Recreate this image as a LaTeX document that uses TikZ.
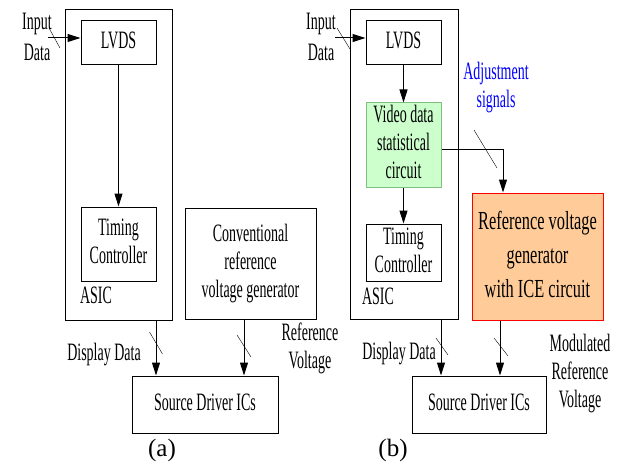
\documentclass[tikz,border=0pt]{standalone}
\usepackage{fontspec}
\setmainfont{Liberation Serif}
\usepackage{graphicx}
\usetikzlibrary{arrows.meta}
\definecolor{videogreen}{rgb}{0.8,1,0.8}
\definecolor{videoedge}{rgb}{0.5,0.75,0.5}
\definecolor{iceorange}{rgb}{1,0.8,0.6}
\newcommand{\sq}[2][0.56]{\scalebox{#1}[1]{\begin{tabular}{@{}c@{}}#2\end{tabular}}}

\begin{document}
\begin{tikzpicture}[x=1pt,y=-1pt,
    box/.style={draw, line width=1pt, inner sep=0pt, font=\fontsize{25}{28}\selectfont},
    txt/.style={inner sep=0pt, font=\fontsize{25}{28}\selectfont},
    flow/.style={-{Triangle[length=13pt,width=8pt]}, line width=1pt}]
        \useasboundingbox (0,0) rectangle (623,465);

        % (a) conventional driving
        \node[box, minimum width=107pt, minimum height=310pt] (asicA) at (118.5,165) {};
        \node[box, minimum width=75pt, minimum height=44pt] (lvdsA) at (118.5,43) {\sq{LVDS}};
        \node[box, minimum width=75pt, minimum height=74pt] (tconA) at (118.5,244) {\sq{Timing\\Controller}};
        \node[txt] (asicAtxt) at (96,298) {\sq{ASIC}};
        \node[box, minimum width=131pt, minimum height=111pt] (convA) at (250.5,263.5) {\sq{Conventional\\reference\\voltage generator}};
        \node[box, minimum width=146pt, minimum height=57pt] (sdA) at (205,404.5) {\sq{Source Driver ICs}};
        \node[txt] (inAtxt) at (37,39) {\sq{Input\\[3pt]Data}};
        \node[txt] (dispAtxt) at (104,355) {\sq{Display Data}};
        \node[txt] (refAtxt) at (310,349) {\sq{Reference\\Voltage}};
        \node[txt] (capA) at (162,450) {(a)};

        \coordinate (inA) at (48,38);
        \coordinate (dispA) at (156,343);
        \coordinate (refA) at (244,346);
        \draw[flow] (inA) -- (inA -| lvdsA.west);
        \draw (inA) ++(1,-10) -- ++(11,20);
        \draw[flow] (lvdsA) -- (tconA);
        \draw[flow] (asicA.south -| dispA) -- (sdA.north -| dispA);
        \draw (dispA) ++(-6.5,-11) -- ++(13,22);
        \draw[flow] (convA.south -| refA) -- (sdA.north -| refA);
        \draw (refA) ++(-7,-11) -- ++(14,22);

        % (b) with ICE circuit
        \node[box, minimum width=108pt, minimum height=309pt] (asicB) at (404,164.5) {};
        \node[box, minimum width=75pt, minimum height=44pt] (lvdsB) at (403.5,43) {\sq{LVDS}};
        \node[box, draw=videoedge, fill=videogreen, minimum width=75pt, minimum height=84pt] (vidB) at (403.5,145) {\sq{Video data\\statistical\\circuit}};
        \node[box, minimum width=75pt, minimum height=57pt] (tconB) at (403.5,252.5) {\sq{Timing\\Controller}};
        \node[txt] (asicBtxt) at (378,299) {\sq{ASIC}};
        \node[box, draw=red, fill=iceorange, minimum width=131pt, minimum height=127pt, font=\fontsize{26}{34}\selectfont] (refB) at (537.5,256.5) {\sq[0.63]{Reference voltage\\generator\\with ICE circuit}};
        \node[box, minimum width=134pt, minimum height=57pt] (sdB) at (479,404.5) {\sq{Source Driver ICs}};
        \node[txt] (inBtxt) at (321,39) {\sq{Input\\[3pt]Data}};
        \node[txt, text=blue] (adjtxt) at (496,88) {\sq{Adjustment\\signals}};
        \node[txt] (dispBtxt) at (399,354) {\sq{Display Data}};
        \node[txt] (modtxt) at (580,374) {\sq{Modulated\\Reference\\Voltage}};
        \node[txt] (capB) at (393,450) {(b)};

        \coordinate (inB) at (335,38);
        \coordinate (adjB) at (503,150);
        \coordinate (dispB) at (441,346);
        \coordinate (modB) at (500,347);
        \draw[flow] (inB) -- (inB -| lvdsB.west);
        \draw (inB) ++(2,-10) -- ++(13,21);
        \draw[flow] (lvdsB) -- (vidB);
        \draw[flow] (vidB) -- (tconB);
        \draw[flow] (vidB.east |- adjB) -| (refB.north -| adjB);
        \draw (adjB) ++(-29,-20) -- ++(23,38);
        \draw[flow] (asicB.south -| dispB) -- (sdB.north -| dispB);
        \draw (dispB) ++(-5,-8) -- ++(12,17);
        \draw[flow] (refB.south -| modB) -- (sdB.north -| modB);
        \draw (modB) ++(-6,-9) -- ++(14,18);
    \end{tikzpicture}
\end{document}
